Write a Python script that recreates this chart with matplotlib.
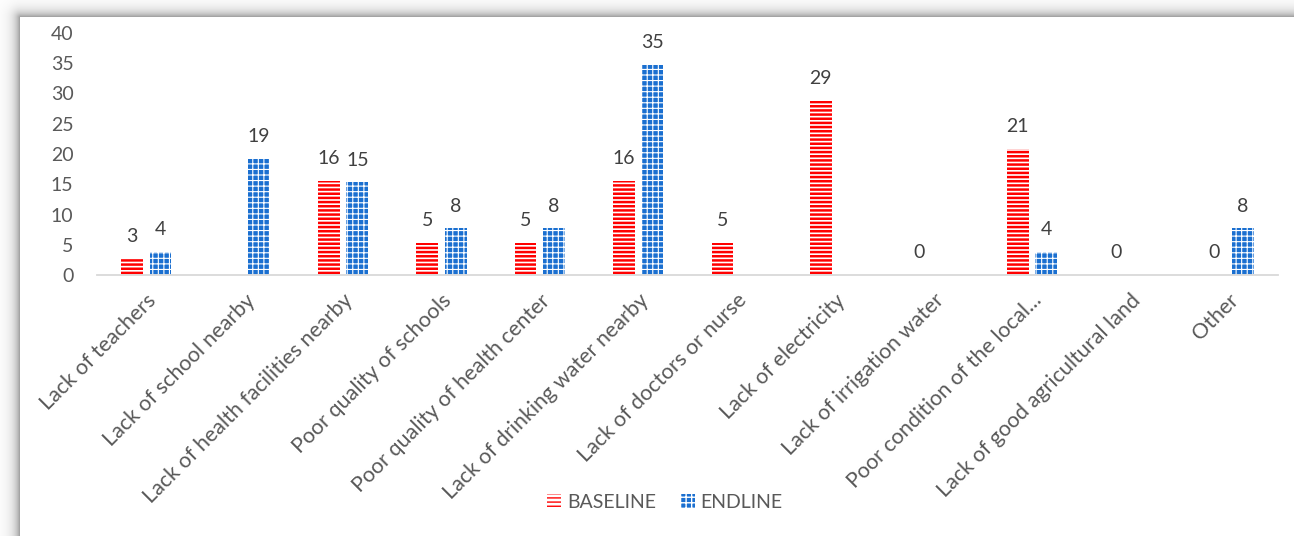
#!/usr/bin/env python3
'''grouped bar chart of reported problems, baseline vs endline'''
import numpy as np
import matplotlib
matplotlib.use('Agg')
import matplotlib.pyplot as plt

categories = ['Lack of teachers', 'Lack of school nearby',
              'Lack of health facilities nearby', 'Poor quality of schools',
              'Poor quality of health center', 'Lack of drinking water nearby',
              'Lack of doctors or nurse', 'Lack of electricity',
              'Lack of irrigation water', 'Poor condition of the local...',
              'Lack of good agricultural land', 'Other']
# nan = no bar and no label in the source chart
baseline = [2.6, np.nan, 15.6, 5.3, 5.3, 15.6, 5.3, 28.7, 0, 20.8, 0, 0]
endline = [3.8, 19.2, 15.3, 7.7, 7.7, 34.7, np.nan, np.nan, np.nan, 3.8,
           np.nan, 7.7]
series_names = ['BASELINE', 'ENDLINE']
yticks = [0, 5, 10, 15, 20, 25, 30, 35, 40]

plt.rcParams['font.family'] = ['Lato', 'DejaVu Sans']

W, H = 1294, 536
fig = plt.figure(figsize=(W / 100, H / 100), dpi=100)

# soft drop shadow on top/left of the chart panel
px0, py0 = 20, 17
yy, xx = np.mgrid[0:H, 0:W]
dx = np.clip(px0 - xx, 0, None)
dy = np.clip(py0 - yy, 0, None)
d = np.sqrt(dx ** 2 + dy ** 2)
shade = 1 - 0.42 * np.exp(-d / 6.0)
shade[(xx >= px0) & (yy >= py0)] = 1.0
fig.figimage(np.dstack([shade] * 3), xo=0, yo=0, origin='upper', zorder=-5)

ax = fig.add_axes([97 / W, 1 - 275 / H, 1181 / W, 242 / H])
ax.set_zorder(5)
ax.patch.set_alpha(0)

x = np.arange(len(categories))
bw = 0.22
off = 0.145
with plt.rc_context({'hatch.linewidth': 1.8}):
    b1 = ax.bar(x - off, np.nan_to_num(baseline), width=bw,
                facecolor='white', edgecolor='#FF0000', hatch='----',
                linewidth=0, label=series_names[0])
with plt.rc_context({'hatch.linewidth': 0.8}):
    b2 = ax.bar(x + off, np.nan_to_num(endline), width=bw,
                facecolor='#1A6FD0', edgecolor='white', hatch='+++',
                linewidth=0, label=series_names[1])
for bars, lw in ((b1, 1.8), (b2, 0.8)):
    for p in bars:
        if hasattr(p, 'set_hatch_linewidth'):
            p.set_hatch_linewidth(lw)

for xs, vals in ((x - off, baseline), (x + off, endline)):
    for xi, v in zip(xs, vals):
        if np.isnan(v):
            continue
        ax.annotate(f'{v:.0f}', (xi, v), xytext=(0, 10),
                    textcoords='offset points', ha='center', va='bottom',
                    fontsize=14, color='#404040')

ax.set_ylim(0, 40)
ax.set_xlim(-0.5, len(categories) - 0.5)
ax.set_yticks(yticks)
ax.set_xticks(x)
ax.set_xticklabels(categories, rotation=45, ha='right',
                   rotation_mode='anchor', fontsize=15.5, color='#595959')
ax.tick_params(axis='y', length=0, pad=17, labelsize=14,
               labelcolor='#595959')
ax.tick_params(axis='x', length=0, pad=11)
for s in ('top', 'right', 'left'):
    ax.spines[s].set_visible(False)
ax.spines['bottom'].set_color('#D9D9D9')
ax.spines['bottom'].set_linewidth(1.3)

leg = fig.legend(handles=[b1, b2], loc='center',
                 bbox_to_anchor=(665 / W, 1 - 502 / H), ncol=2, frameon=False,
                 fontsize=14, handlelength=0.7, handleheight=0.7,
                 handletextpad=0.3, columnspacing=1.3)
leg.set_zorder(6)
for t in leg.get_texts():
    t.set_color('#595959')

fig.savefig('out.png', dpi=100)
